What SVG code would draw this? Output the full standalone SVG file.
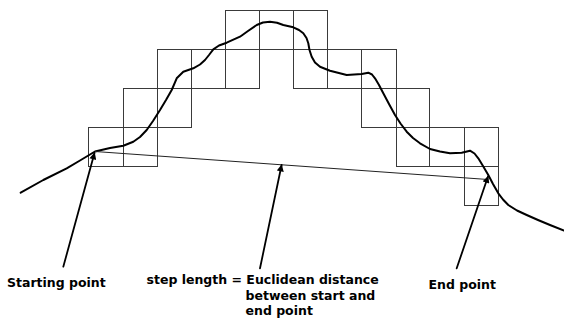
<svg xmlns="http://www.w3.org/2000/svg" width="564" height="320" viewBox="0 0 564 320">
<style>
.cell{fill:none;stroke:#3a3a3a;stroke-width:1}
.curve{fill:none;stroke:#000;stroke-width:2;stroke-linejoin:round;stroke-linecap:round}
.step{fill:none;stroke:#222;stroke-width:1}
.arrow{fill:none;stroke:#000;stroke-width:1.8;stroke-linecap:round}
.lbl{font-family:"DejaVu Sans",Verdana,sans-serif;font-weight:bold;font-size:12.5px;fill:#000}
</style>
<defs>
<marker id="ah" viewBox="0 0 10 10" refX="9" refY="5" markerWidth="8" markerHeight="7" markerUnits="userSpaceOnUse" orient="auto">
<path d="M0,0 L10,5 L0,10 z" fill="#000"/>
</marker>
</defs>
<rect width="564" height="320" fill="#fff"/>
<g id="grid">
<rect class="cell" x="225.5" y="10.5" width="34" height="39"/>
<rect class="cell" x="259.5" y="10.5" width="34" height="39"/>
<rect class="cell" x="293.5" y="10.5" width="34" height="39"/>
<rect class="cell" x="157.5" y="49.5" width="34" height="39"/>
<rect class="cell" x="191.5" y="49.5" width="34" height="39"/>
<rect class="cell" x="225.5" y="49.5" width="34" height="39"/>
<rect class="cell" x="293.5" y="49.5" width="34" height="39"/>
<rect class="cell" x="327.5" y="49.5" width="34" height="39"/>
<rect class="cell" x="361.5" y="49.5" width="35" height="39"/>
<rect class="cell" x="123.5" y="88.5" width="34" height="39"/>
<rect class="cell" x="157.5" y="88.5" width="34" height="39"/>
<rect class="cell" x="361.5" y="88.5" width="35" height="39"/>
<rect class="cell" x="396.5" y="88.5" width="33" height="39"/>
<rect class="cell" x="88.5" y="127.5" width="35" height="39"/>
<rect class="cell" x="123.5" y="127.5" width="34" height="39"/>
<rect class="cell" x="396.5" y="127.5" width="33" height="39"/>
<rect class="cell" x="429.5" y="127.5" width="35" height="39"/>
<rect class="cell" x="464.5" y="127.5" width="34" height="39"/>
<rect class="cell" x="464.5" y="166.5" width="34" height="39"/>
</g>
<g id="curve">
<path class="curve" d="M20.7,192.7 L43.3,180 L66.7,168.3 L80,160.5 L95,151.5 L110,148 L123.3,145.7 L133.3,141.7 L140,137 L146.7,130 L153,121 L160,110 L166,100 L171.7,90 L176.7,78.3 L183.3,71.7 L193.3,68.3 L200,64.5 L205,60 L209,55 L213.3,49.3 L219,45.5 L226.7,42.7 L240,36.7 L248,31 L256.7,25 L263,22.5 L270,21.7 L277,22.8 L283.3,25 L293.3,27.3 L299,30 L303.3,33.3 L306.5,38 L308.3,43.3 L309.5,50 L311.7,56.7 L315,62.5 L320,66.7 L330,70.7 L346.7,75 L361.7,74 L368.3,72.7 L372,74.5 L375,78.3 L379,85 L383.3,93.3 L389,104 L395,115 L400.5,123.5 L406.7,131.7 L413,138 L420,143.3 L430,149 L440,151.5 L450,153.3 L461.7,152.7 L470,150.7 L474.5,153.5 L478.3,158.3 L483,166 L488.3,175 L493,184 L498.3,193.3 L503,199.5 L508.3,205 L517,210.5 L526.7,215 L538,220 L550,225 L564,230.5"/>
</g>
<g id="connectors">
<line class="step" x1="95" y1="151.5" x2="488" y2="179.5"/>
<line id="arrow-start" class="arrow" x1="63.3" y1="266.7" x2="94.5" y2="153" marker-end="url(#ah)"/>
<line id="arrow-step" class="arrow" x1="260" y1="268.3" x2="281.6" y2="165" marker-end="url(#ah)"/>
<line id="arrow-end" class="arrow" x1="456.7" y1="268.3" x2="488" y2="176.5" marker-end="url(#ah)"/>
</g>
<g id="label-start"><text class="lbl" x="7" y="286.5">Starting point</text></g>
<g id="label-step"><text class="lbl" x="146.5" y="284">step length = Euclidean distance</text>
<text class="lbl" x="245.5" y="299.5">between start and</text>
<text class="lbl" x="245.5" y="314.5">end point</text></g>
<g id="label-end"><text class="lbl" x="428.5" y="289">End point</text></g>
</svg>
